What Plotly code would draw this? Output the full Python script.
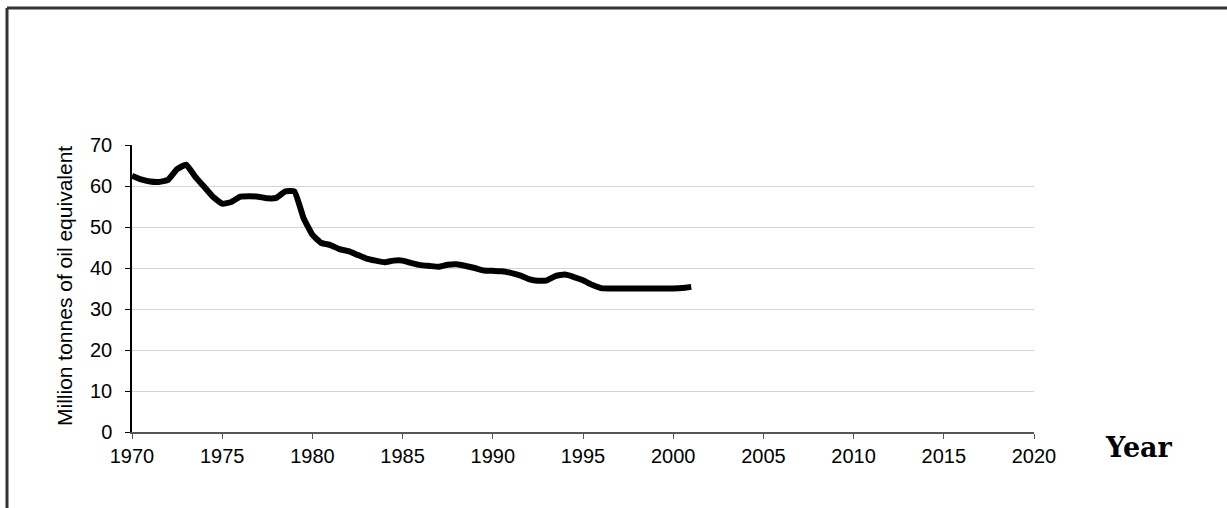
import plotly.graph_objects as go

years = [1970.0, 1970.5, 1971.0, 1971.5, 1972.0, 1972.5, 1973.0, 1973.5, 1974.0, 1974.5,
         1975.0, 1975.5, 1976.0, 1976.5, 1977.0, 1977.5, 1978.0, 1978.5, 1979.0, 1979.5,
         1980.0, 1980.5, 1981.0, 1981.5, 1982.0, 1982.5, 1983.0, 1983.5, 1984.0, 1984.5,
         1985.0, 1985.5, 1986.0, 1986.5, 1987.0, 1987.5, 1988.0, 1988.5, 1989.0, 1989.5,
         1990.0, 1990.5, 1991.0, 1991.5, 1992.0, 1992.5, 1993.0, 1993.5, 1994.0, 1994.5,
         1995.0, 1995.5, 1996.0, 1996.5, 1997.0, 1997.5, 1998.0, 1998.5, 1999.0, 1999.5,
         2000.0, 2000.5, 2001.0]
consumption = [62.5, 61.6, 61.1, 61.0, 61.5, 64.1, 65.2, 62.3, 59.8, 57.3,
               55.7, 56.1, 57.4, 57.5, 57.4, 57.0, 57.1, 58.7, 58.7, 52.3,
               48.1, 46.1, 45.6, 44.6, 44.1, 43.2, 42.3, 41.8, 41.4, 41.8,
               41.8, 41.2, 40.7, 40.5, 40.3, 40.8, 40.9, 40.5, 40.0, 39.4,
               39.3, 39.2, 38.8, 38.2, 37.3, 36.9, 37.0, 38.1, 38.4, 37.8,
               37.0, 35.9, 35.1, 35.0, 35.0, 35.0, 35.0, 35.0, 35.0, 35.0,
               35.0, 35.1, 35.4]

x_ticks = [1970, 1975, 1980, 1985, 1990, 1995, 2000, 2005, 2010, 2015, 2020]
y_ticks = [0, 10, 20, 30, 40, 50, 60, 70]

fig = go.Figure()
fig.add_trace(go.Scatter(
    x=years, y=consumption, mode="lines",
    line=dict(color="black", width=6, shape="spline", smoothing=0.4),
    hoverinfo="skip", showlegend=False,
))

W, H = 1227, 508
L, R, T, B = 132, 193, 145, 76
pw, ph = W - L - R, H - T - B

def px_x(px):
    return (px - L) / pw

def px_y(py):
    return (H - B - py) / ph

SANS = "Liberation Sans, Arial, sans-serif"

fig.update_layout(
    width=W, height=H,
    margin=dict(l=L, r=R, t=T, b=B, pad=0),
    paper_bgcolor="white", plot_bgcolor="white",
    font=dict(family=SANS, size=20, color="black"),
    xaxis=dict(
        range=[1970, 2020], tickvals=x_ticks, ticktext=[str(t) for t in x_ticks],
        showgrid=False, zeroline=False,
        showline=True, linecolor="#555555", linewidth=1.5,
        ticks="outside", ticklen=5, tickcolor="#555555", tickwidth=1,
        tickfont=dict(size=20, family=SANS),
        fixedrange=True,
    ),
    yaxis=dict(
        range=[0, 70], tickvals=y_ticks,
        showgrid=True, gridcolor="#d4d4d4", gridwidth=1,
        zeroline=False,
        showline=True, linecolor="black", linewidth=1.5,
        ticks="outside", ticklen=5, tickcolor="black", tickwidth=1,
        tickfont=dict(size=20, family=SANS),
        ticklabelstandoff=9,
        fixedrange=True,
    ),
    annotations=[
        dict(text="Million tonnes of oil equivalent", textangle=-90,
             x=px_x(64), y=px_y(286), xref="paper", yref="paper",
             showarrow=False, xanchor="center", yanchor="middle",
             font=dict(size=21, family=SANS, color="black")),
        dict(text="<b>Year</b>",
             x=px_x(1139), y=px_y(447), xref="paper", yref="paper",
             showarrow=False, xanchor="center", yanchor="middle",
             font=dict(size=27, family="DejaVu Serif, serif", color="black")),
    ],
    shapes=[
        dict(type="line", xref="paper", yref="paper",
             x0=px_x(7), x1=px_x(W + 2), y0=px_y(8), y1=px_y(8),
             line=dict(color="#333333", width=3)),
        dict(type="line", xref="paper", yref="paper",
             x0=px_x(7), x1=px_x(7), y0=px_y(8), y1=px_y(H + 2),
             line=dict(color="#333333", width=3)),
    ],
)

fig.write_html("out.html", config={"displayModeBar": False},
               post_script="document.body.style.margin='0px';")
